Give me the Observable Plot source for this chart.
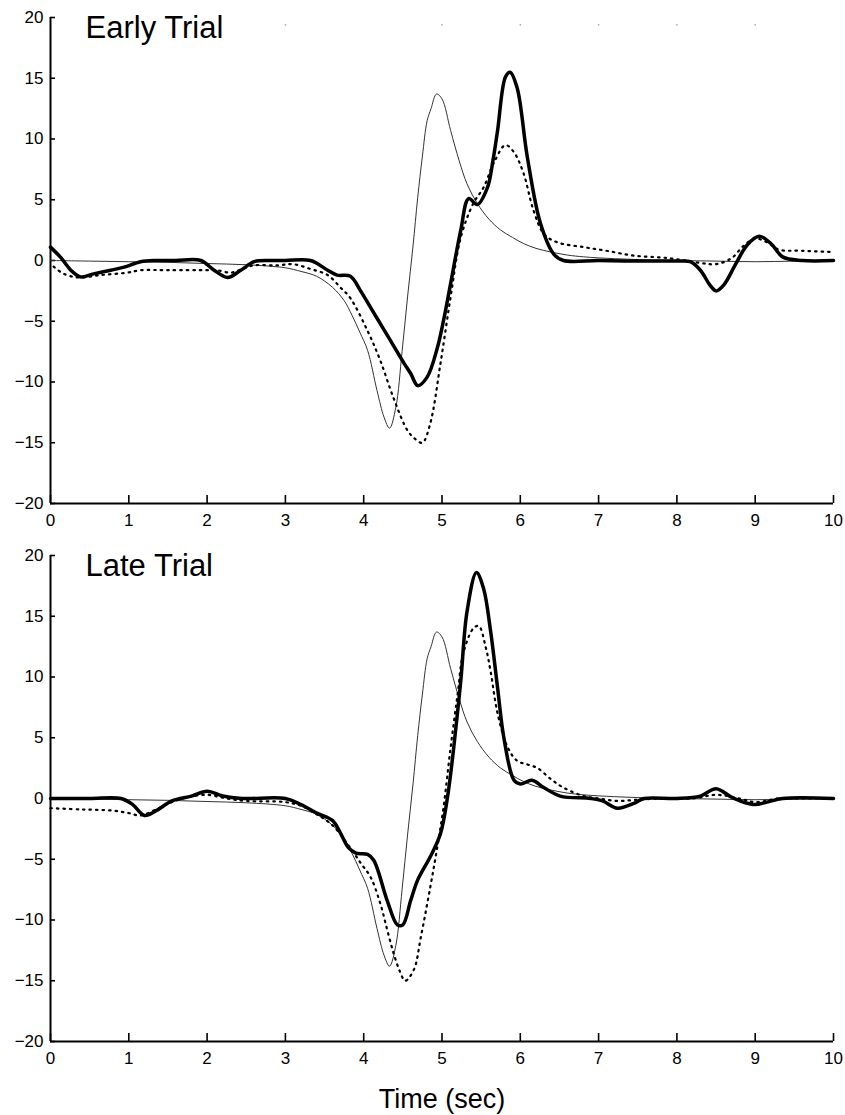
<!DOCTYPE html>
<html>
<head>
<meta charset="utf-8">
<script src="https://cdn.jsdelivr.net/npm/d3@7"></script>
<script src="https://cdn.jsdelivr.net/npm/@observablehq/plot@0.6"></script>
<style>
  html, body { margin: 0; padding: 0; background: #fff; }
  #chart svg { display: block; }
  #chart g[aria-label="x-axis tick label"] text,
  #chart g[aria-label="y-axis tick label"] text { font-size: 17px; }
</style>
</head>
<body>
<div id="chart"></div>
<script>
// ---- axis ticks ----
const xTicks = [0, 1, 2, 3, 4, 5, 6, 7, 8, 9, 10];
const yTicks = [-20, -15, -10, -5, 0, 5, 10, 15, 20];
const faintTopTicks = [3, 5, 6, 7, 8, 9];
const xLabel = "Time (sec)";

// ---- thin line (same in both panels) ----
const modelT = [0, 0.5, 1, 1.5, 2, 2.5, 3, 3.2, 3.4, 3.6, 3.75, 3.85, 3.95, 4.05, 4.17, 4.26, 4.33, 4.41, 4.49, 4.56, 4.63, 4.69, 4.75, 4.81, 4.86, 4.93, 5.0, 5.11, 5.22, 5.32, 5.45, 5.6, 5.75, 5.9, 6.04, 6.2, 6.39, 6.6, 6.81, 7.2, 7.6, 8.0, 8.5, 9.0, 9.5, 10];
const modelV = [0, -0.05, -0.1, -0.15, -0.25, -0.35, -0.6, -0.9, -1.3, -2.2, -3.3, -4.5, -5.9, -7.4, -10.7, -12.9, -13.8, -12.1, -7.5, -3.0, 1.2, 5.2, 8.6, 11.5, 12.5, 13.7, 13.3, 10.7, 8.2, 6.3, 4.7, 3.4, 2.5, 1.9, 1.4, 1.0, 0.7, 0.45, 0.3, 0.15, 0.05, 0, -0.05, -0.1, -0.05, 0];

// ---- Early Trial ----
const earlyThickT = [0, 0.13, 0.26, 0.38, 0.55, 0.77, 0.94, 1.15, 1.36, 1.6, 1.92, 2.09, 2.26, 2.43, 2.6, 2.8, 3.0, 3.32, 3.54, 3.66, 3.83, 3.96, 4.1, 4.25, 4.38, 4.51, 4.6, 4.69, 4.81, 4.94, 5.03, 5.11, 5.24, 5.34, 5.45, 5.58, 5.65, 5.71, 5.81, 5.87, 5.96, 6.09, 6.26, 6.43, 6.55, 7.0, 7.5, 8.0, 8.17, 8.3, 8.42, 8.5, 8.6, 8.75, 8.9, 9.05, 9.2, 9.35, 9.6, 10];
const earlyThickV = [1.1, 0.25, -0.8, -1.35, -1.1, -0.8, -0.55, -0.1, 0, 0, 0, -0.8, -1.4, -0.8, -0.1, 0, 0, 0, -0.8, -1.2, -1.3, -2.5, -4.0, -5.6, -7.0, -8.4, -9.3, -10.3, -9.6, -7.2, -4.6, -1.9, 2.5, 5.1, 4.6, 6.0, 8.2, 10.7, 15.1, 15.5, 14.2, 8.5, 3.0, 0.5, 0, 0, -0.05, -0.05, -0.1, -0.8, -2.0, -2.5, -2.0, -0.3, 1.3, 2.0, 1.4, 0.3, 0, 0];
const earlyDotT = [0.04, 0.17, 0.36, 0.64, 0.98, 1.15, 1.5, 2.0, 2.13, 2.3, 2.45, 2.6, 2.9, 3.1, 3.32, 3.54, 3.7, 3.83, 4.05, 4.21, 4.38, 4.56, 4.66, 4.75, 4.85, 4.98, 5.11, 5.24, 5.4, 5.53, 5.66, 5.81, 5.92, 6.04, 6.17, 6.3, 6.47, 6.81, 7.1, 7.45, 7.88, 8.3, 8.5, 8.7, 8.85, 9.0, 9.15, 9.3, 9.6, 10];
const earlyDotV = [-0.5, -1.1, -1.4, -1.2, -1.0, -0.8, -0.8, -0.8, -0.8, -1.0, -0.7, -0.4, -0.4, -0.3, -0.7, -1.2, -2.2, -3.1, -5.8, -8.2, -11.3, -14.0, -14.7, -15.0, -13.4, -8.5, -3.0, 1.9, 4.7, 6.0, 8.0, 9.5, 8.9, 7.2, 4.1, 2.2, 1.5, 1.1, 0.8, 0.4, 0.2, -0.2, -0.3, 0.2, 1.2, 1.8, 1.5, 0.9, 0.8, 0.7];

// ---- Late Trial ----
const lateThickT = [0, 0.5, 0.9, 1.05, 1.2, 1.35, 1.55, 1.8, 2.0, 2.2, 2.45, 3.0, 3.2, 3.4, 3.6, 3.7, 3.8, 3.9, 4.05, 4.13, 4.3, 4.43, 4.5, 4.6, 4.69, 4.85, 4.98, 5.07, 5.15, 5.24, 5.32, 5.44, 5.53, 5.62, 5.71, 5.79, 5.92, 6.0, 6.15, 6.3, 6.51, 6.9, 7.05, 7.24, 7.45, 7.58, 8.0, 8.3, 8.5, 8.7, 8.85, 9.0, 9.15, 9.35, 10];
const lateThickV = [0, 0, 0, -0.5, -1.4, -1.0, -0.2, 0.2, 0.6, 0.2, 0, 0, -0.5, -1.2, -1.8, -2.8, -4.0, -4.5, -4.6, -5.1, -8.4, -10.4, -10.4, -8.4, -6.7, -4.8, -2.9, 0.1, 4.2, 9.7, 15.4, 18.6, 17.3, 13.8, 9.1, 5.0, 1.5, 1.2, 1.5, 0.9, 0.2, 0, -0.2, -0.8, -0.4, 0, 0, 0.2, 0.8, 0.1, -0.3, -0.5, -0.3, 0, 0];
const lateDotT = [0, 0.4, 0.8, 1.0, 1.15, 1.35, 1.55, 1.75, 2.0, 2.25, 2.5, 3.0, 3.2, 3.4, 3.6, 3.8, 3.96, 4.09, 4.21, 4.3, 4.38, 4.46, 4.53, 4.64, 4.73, 4.85, 4.94, 5.02, 5.11, 5.2, 5.27, 5.4, 5.47, 5.56, 5.62, 5.71, 5.84, 5.96, 6.09, 6.22, 6.39, 6.55, 6.81, 7.0, 7.24, 7.5, 7.8, 8.2, 8.5, 8.8, 9.0, 9.3, 9.6, 10];
const lateDotV = [-0.8, -0.9, -1.0, -1.2, -1.4, -0.9, -0.3, 0.1, 0.3, 0.0, -0.2, -0.3, -0.6, -1.3, -2.2, -3.8, -5.3, -6.5, -8.6, -10.8, -12.7, -14.2, -15.0, -14.1, -11.4, -7.3, -4.0, -0.7, 4.2, 8.6, 11.9, 14.0, 14.2, 12.4, 10.5, 7.0, 4.2, 3.1, 2.8, 2.5, 1.6, 0.9, 0.2, 0, -0.2, -0.1, 0, 0, 0.3, 0, -0.3, 0, 0, 0];

const zip = (ts, vs) => ts.map((t, i) => ({t, v: vs[i]}));
const FONT = "'Liberation Sans', Arial, Helvetica, sans-serif";

function panel({title, thickT, thickV, dotT, dotV, bottom, faint}) {
  const marks = [
    Plot.ruleX([0], {stroke: "black", strokeWidth: 2}),
    Plot.ruleY([-20], {stroke: "black", strokeWidth: 2}),
    // inward ticks (drawn as axis ticks shifted into the frame)
    Plot.axisY({ticks: yTicks, tickSize: 5, dx: 5, text: null, label: null, strokeWidth: 1.6}),
    Plot.axisX({ticks: xTicks, tickSize: 8, dy: -8, text: null, label: null, strokeWidth: 1.6}),
    // tick labels
    Plot.axisY({ticks: yTicks, tickSize: 0, tickPadding: 7, label: null}),
    Plot.axisX({ticks: xTicks, tickSize: 0, tickPadding: 10, label: null}),
    Plot.line(zip(modelT, modelV), {x: "t", y: "v", curve: "catmull-rom", stroke: "#333", strokeWidth: 1}),
    Plot.line(zip(dotT, dotV), {x: "t", y: "v", curve: "catmull-rom", stroke: "black", strokeWidth: 2.2,
                                strokeDasharray: "1.5,5"}),
    Plot.line(zip(thickT, thickV), {x: "t", y: "v", curve: "catmull-rom", stroke: "black", strokeWidth: 3.5}),
    Plot.text([title], {frameAnchor: "top-left", dx: 35, dy: -2, lineAnchor: "top", textAnchor: "start",
                        fontSize: 31, fill: "black"})
  ];
  if (faint) marks.push(Plot.dot(faint, {x: d => d, y: () => 19.4, r: 0.9, fill: "#aaa", stroke: null}));
  if (bottom) marks.push(Plot.text([xLabel], {frameAnchor: "bottom", dy: 66, lineAnchor: "bottom",
                                              fontSize: 27, fill: "black"}));
  return Plot.plot({
    width: 845,
    height: bottom ? 577 : 538,
    marginLeft: 50, marginRight: 12, marginTop: 17, marginBottom: bottom ? 74 : 35,
    style: {fontFamily: FONT, fontSize: "16px", color: "black", background: "white", overflow: "visible"},
    x: {domain: [0, 10]},
    y: {domain: [-20, 20]},
    marks
  });
}

const chart = document.getElementById("chart");
chart.append(panel({title: "Early Trial", thickT: earlyThickT, thickV: earlyThickV, dotT: earlyDotT, dotV: earlyDotV, bottom: false, faint: faintTopTicks}));
chart.append(panel({title: "Late Trial", thickT: lateThickT, thickV: lateThickV, dotT: lateDotT, dotV: lateDotV, bottom: true}));
</script>
</body>
</html>
